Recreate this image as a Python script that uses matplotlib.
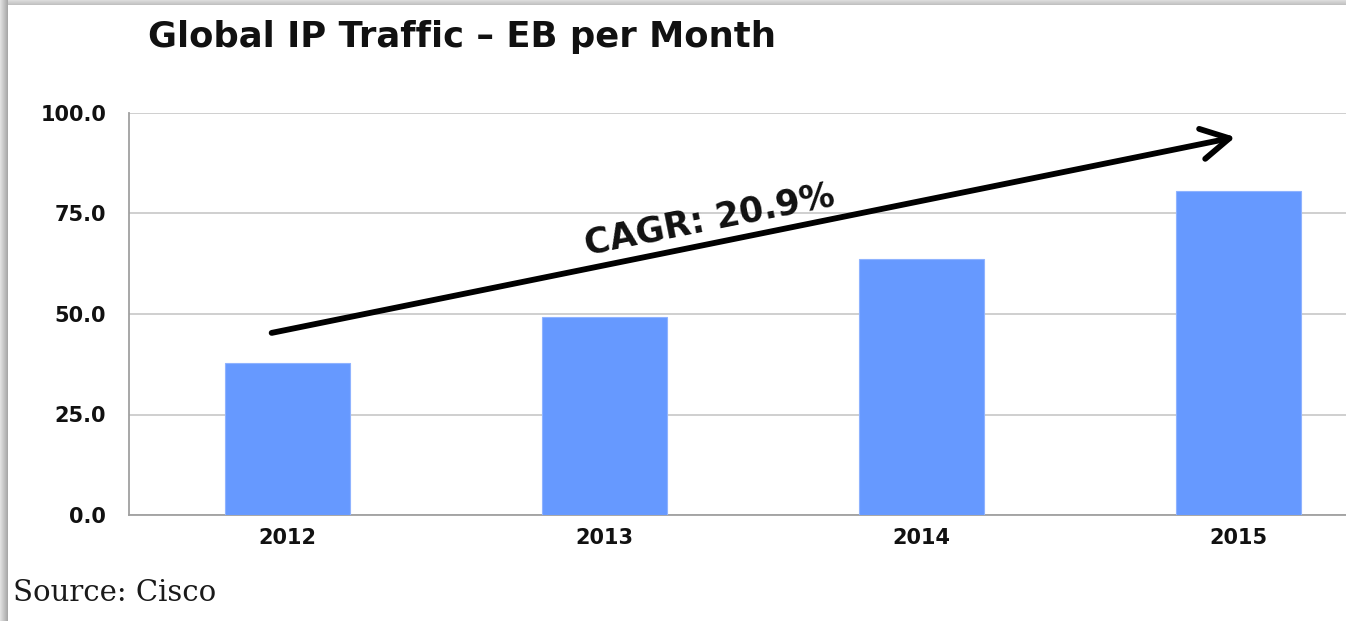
import numpy as np
import matplotlib
matplotlib.use("Agg")
import matplotlib.pyplot as plt

years = ["2012", "2013", "2014", "2015"]
traffic = [37.8, 49.3, 63.7, 80.7]
yticks = [0, 25, 50, 75, 100]
ytick_labels = ["0.0", "25.0", "50.0", "75.0", "100.0"]
title = "Global IP Traffic \u2013 EB per Month"
cagr_label = "CAGR: 20.9%"
source = "Source: Cisco"

W, H = 1346, 621
fig = plt.figure(figsize=(W / 100, H / 100), dpi=100)
fig.patch.set_facecolor("white")

# plot area
ax_left, ax_right, ax_top, ax_bottom = 129, 1346, 113, 515
ax = fig.add_axes([ax_left / W, 1 - ax_bottom / H, (ax_right - ax_left) / W, (ax_bottom - ax_top) / H])
x = np.arange(len(years))
ax.bar(x, traffic, width=0.395, color="#6699FF", edgecolor="#8fb3ff", linewidth=0.8, zorder=3)
ax.set_ylim(0, 100)
ax.set_xlim(-0.5, -0.5 + (ax_right - ax_left) / 317.0)
ax.set_yticks(yticks)
ax.set_yticklabels(ytick_labels)
ax.set_xticks(x)
ax.set_xticklabels(years)
for lab in ax.get_yticklabels() + ax.get_xticklabels():
    lab.set_fontfamily("DejaVu Sans")
    lab.set_fontweight("bold")
    lab.set_fontsize(15)
    lab.set_color("#111111")
ax.tick_params(axis="both", length=0)
ax.tick_params(axis="y", pad=16.5)
ax.tick_params(axis="x", pad=9)
ax.grid(axis="y", color="#cccccc", linewidth=1.3, zorder=0)
for s in ["top", "right"]:
    ax.spines[s].set_visible(False)
ax.spines["left"].set_color("#a0a0a0")
ax.spines["bottom"].set_color("#a0a0a0")
ax.spines["left"].set_linewidth(1.3)
ax.spines["bottom"].set_linewidth(1.3)

# CAGR arrow
ax.annotate("", xy=(2.99, 94.0), xytext=(-0.05, 45.3),
            arrowprops=dict(arrowstyle="->,head_length=1.0,head_width=0.55", lw=4.2, color="black",
                            mutation_scale=20, shrinkA=0, shrinkB=0), zorder=5)
ax.text(1.33, 73.5, cagr_label, rotation=11.3, rotation_mode="anchor", ha="center", va="center",
        fontsize=25, fontweight="bold", family="DejaVu Sans", color="#111111", zorder=6)

fig.text(148 / W, 1 - 37 / H, title, ha="left", va="center", fontsize=25.5, fontweight="bold",
         family="DejaVu Sans", color="#111111")
fig.text(13 / W, 1 - 593 / H, source, ha="left", va="center", fontsize=21,
         family="DejaVu Serif", color="#1a1a1a")

# slide shadow edges
sh = fig.add_axes([0, 0, 8 / W, 1], zorder=10)
grad = np.linspace(0.88, 0.66, 8).reshape(1, -1)
sh.imshow(np.dstack([grad] * 3), aspect="auto", extent=(0, 1, 0, 1))
sh.axis("off")
st = fig.add_axes([0, 1 - 5 / H, 1, 5 / H], zorder=9)
gradt = np.linspace(0.86, 0.76, 5).reshape(-1, 1)
st.imshow(np.dstack([gradt] * 3), aspect="auto", extent=(0, 1, 0, 1))
st.axis("off")

fig.savefig("out.png", dpi=100, facecolor="white")
